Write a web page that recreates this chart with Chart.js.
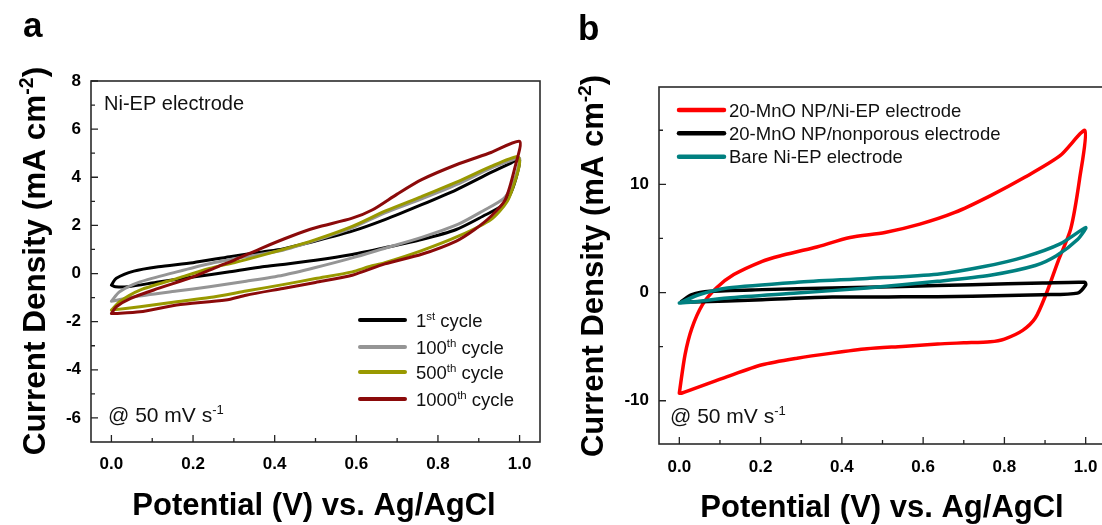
<!DOCTYPE html>
<html>
<head>
<meta charset="utf-8">
<script src="https://cdn.jsdelivr.net/npm/chart.js@4.4.1/dist/chart.umd.min.js"></script>
<style>
  html, body { margin: 0; padding: 0; background: #fff; overflow: hidden; width: 1102px; height: 525px; }
  canvas { position: absolute; top: 0; }
  #panelA { left: 0; }
  #panelB { left: 551px; }
</style>
</head>
<body>
<canvas id="panelA" width="551" height="525"></canvas>
<canvas id="panelB" width="560" height="525"></canvas>
<script>
// ---------- Panel a: Ni-EP electrode, cycling stability (potential V, current mA cm-2) ----------
const cycle1V    = [0, 0.012, 0.055, 0.115, 0.2, 0.29, 0.37, 0.42, 0.5, 0.59, 0.67, 0.76, 0.845, 0.93, 0.98, 1.0, 0.995, 0.98, 0.96, 0.91, 0.845, 0.76, 0.67, 0.59, 0.5, 0.42, 0.37, 0.29, 0.2, 0.115, 0.04, 0.01, 0];
const cycle1I    = [-0.48, -0.2, 0.1, 0.28, 0.45, 0.7, 0.9, 1.02, 1.35, 1.76, 2.24, 2.86, 3.48, 4.2, 4.6, 4.75, 4.2, 3.4, 2.85, 2.38, 1.83, 1.41, 1.07, 0.79, 0.55, 0.38, 0.28, 0.07, -0.14, -0.35, -0.55, -0.55, -0.48];

const cycle100V  = [0, 0.02, 0.07, 0.16, 0.24, 0.33, 0.42, 0.5, 0.59, 0.67, 0.76, 0.845, 0.93, 0.98, 1.0, 0.995, 0.98, 0.96, 0.91, 0.85, 0.76, 0.67, 0.59, 0.5, 0.42, 0.33, 0.24, 0.16, 0.055, 0.01, 0];
const cycle100I  = [-1.15, -0.76, -0.35, 0.07, 0.41, 0.7, 0.97, 1.38, 1.9, 2.52, 3.1, 3.69, 4.38, 4.7, 4.8, 4.3, 3.6, 3.1, 2.6, 2.05, 1.5, 1.05, 0.65, 0.25, -0.07, -0.32, -0.55, -0.73, -0.97, -1.12, -1.15];

const cycle500V  = [0, 0.02, 0.07, 0.16, 0.24, 0.3, 0.33, 0.42, 0.5, 0.59, 0.67, 0.76, 0.85, 0.93, 0.995, 1.0, 0.99, 0.97, 0.93, 0.85, 0.76, 0.67, 0.63, 0.59, 0.5, 0.42, 0.33, 0.24, 0.16, 0.07, 0.01, 0];
const cycle500I  = [-1.52, -1.17, -0.69, -0.21, 0.21, 0.45, 0.58, 1.0, 1.41, 1.96, 2.59, 3.2, 3.83, 4.45, 4.86, 4.6, 3.9, 3.0, 2.24, 1.55, 0.95, 0.45, 0.28, 0.07, -0.21, -0.46, -0.73, -1.0, -1.17, -1.38, -1.5, -1.52];

const cycle1000V = [0, 0.012, 0.046, 0.115, 0.2, 0.26, 0.3, 0.37, 0.44, 0.5, 0.59, 0.64, 0.7, 0.76, 0.845, 0.93, 1.0, 0.99, 0.965, 0.93, 0.89, 0.845, 0.76, 0.67, 0.59, 0.5, 0.42, 0.33, 0.28, 0.16, 0.07, 0.01, 0];
const cycle1000I = [-1.66, -1.38, -1.04, -0.62, -0.14, 0.28, 0.55, 1.07, 1.55, 1.9, 2.3, 2.65, 3.3, 3.9, 4.52, 5.03, 5.49, 4.5, 3.07, 2.38, 1.83, 1.35, 0.8, 0.4, -0.07, -0.37, -0.62, -0.9, -1.1, -1.31, -1.59, -1.66, -1.66];

// ---------- Panel b: electrode comparison ----------
const mnoNiEpV     = [0, 0.014, 0.031, 0.057, 0.091, 0.134, 0.204, 0.247, 0.333, 0.42, 0.506, 0.592, 0.678, 0.765, 0.85, 0.937, 0.998, 0.985, 0.963, 0.932, 0.902, 0.876, 0.845, 0.8, 0.765, 0.7, 0.636, 0.549, 0.462, 0.376, 0.29, 0.204, 0.118, 0.005, 0];
const mnoNiEpI     = [-9.3, -5.76, -3.29, -1.12, 0.42, 1.66, 2.89, 3.38, 4.16, 5.09, 5.55, 6.32, 7.4, 8.94, 10.65, 12.65, 14.97, 10.5, 5.86, 2.89, -0.2, -2.36, -3.5, -4.3, -4.55, -4.65, -4.75, -4.98, -5.2, -5.6, -6.07, -6.68, -7.77, -9.31, -9.3];

const mnoNonporousV = [0.005, 0.031, 0.075, 0.204, 0.376, 0.549, 0.721, 0.894, 0.998, 1.0, 0.98, 0.894, 0.721, 0.549, 0.376, 0.204, 0.031, 0.005];
const mnoNonporousI = [-0.82, -0.2, 0.11, 0.27, 0.42, 0.57, 0.73, 0.88, 0.95, 0.7, -0.05, -0.2, -0.35, -0.4, -0.42, -0.66, -0.87, -0.82];

const bareNiEpV    = [0, 0.048, 0.118, 0.29, 0.462, 0.635, 0.75, 0.85, 0.937, 1.0, 0.98, 0.928, 0.876, 0.765, 0.635, 0.462, 0.29, 0.118, 0.031, 0];
const bareNiEpI    = [-0.97, -0.2, 0.42, 0.95, 1.3, 1.7, 2.4, 3.3, 4.5, 6.0, 4.9, 3.4, 2.5, 1.6, 1.04, 0.42, -0.05, -0.51, -0.88, -0.97];

// ---------- Axis ticks ----------
const xTickValues  = [0, 0.2, 0.4, 0.6, 0.8, 1.0];
const xMinorValues = [0.1, 0.3, 0.5, 0.7, 0.9];
const yTicksA      = [-6, -4, -2, 0, 2, 4, 6, 8];
const yMinorA      = [-5, -3, -1, 1, 3, 5, 7];
const yTicksB      = [-10, 0, 10];
const yMinorB      = [-5, 5, 15];

const FONT = '"Liberation Sans", Arial, Helvetica, sans-serif';
Chart.defaults.font.family = FONT;

function toPoints(xs, ys) { return xs.map((x, i) => ({ x: x, y: ys[i] })); }

function loop(label, xs, ys, color, width, order) {
  return {
    label: label,
    data: toPoints(xs, ys),
    showLine: true,
    borderColor: color,
    backgroundColor: color,
    borderWidth: width,
    pointRadius: 0,
    tension: 0.25,
    borderJoinStyle: 'round',
    borderCapStyle: 'round',
    fill: false,
    order: order
  };
}

// rich text with superscript parts: parts = [[text, isSup], ...]
function richWidth(ctx, parts, size, weight) {
  let w = 0;
  parts.forEach(([t, sup]) => {
    ctx.font = `${weight} ${sup ? size * 0.62 : size}px ${FONT}`;
    w += ctx.measureText(t).width;
  });
  return w;
}
function drawRich(ctx, parts, x, y, size, weight, align) {
  const w = richWidth(ctx, parts, size, weight);
  let cx = align === 'center' ? x - w / 2 : x;
  ctx.textAlign = 'left';
  ctx.textBaseline = 'alphabetic';
  parts.forEach(([t, sup]) => {
    ctx.font = `${weight} ${sup ? size * 0.62 : size}px ${FONT}`;
    ctx.fillText(t, cx, sup ? y - size * 0.38 : y);
    cx += ctx.measureText(t).width;
  });
}

function decorPlugin(spec) {
  return {
    id: 'decor',
    afterDraw(chart) {
      const ctx = chart.ctx, a = chart.chartArea;
      const xs = chart.scales.x, ys = chart.scales.y;
      ctx.save();

      // frame
      ctx.strokeStyle = '#2b2b2b';
      ctx.lineWidth = 1.6;
      ctx.strokeRect(a.left, a.top, a.right - a.left, a.bottom - a.top);

      // inward tick marks
      ctx.lineWidth = 1.3;
      ctx.strokeStyle = '#222';
      ctx.beginPath();
      const xt = (v, len) => { const p = xs.getPixelForValue(v); ctx.moveTo(p, a.bottom); ctx.lineTo(p, a.bottom - len); };
      const yt = (v, len) => { const p = ys.getPixelForValue(v); ctx.moveTo(a.left, p); ctx.lineTo(a.left + len, p); };
      spec.xMajor.forEach(v => xt(v, 7));
      spec.xMinor.forEach(v => xt(v, 4));
      spec.yMajor.forEach(v => yt(v, 7));
      spec.yMinor.forEach(v => yt(v, 4));
      ctx.stroke();

      ctx.fillStyle = '#000';

      // legend
      spec.legend.items.forEach((it, i) => {
        const y = spec.legend.rows[i];
        ctx.strokeStyle = it.color;
        ctx.lineWidth = spec.legend.lineWidth;
        ctx.lineCap = 'round';
        ctx.beginPath();
        ctx.moveTo(spec.legend.x0, y);
        ctx.lineTo(spec.legend.x1, y);
        ctx.stroke();
        ctx.fillStyle = '#111';
        drawRich(ctx, it.parts, spec.legend.tx, y + spec.legend.size * 0.36, spec.legend.size, 'normal', 'left');
      });

      // free text notes
      ctx.fillStyle = '#111';
      spec.notes.forEach(n => drawRich(ctx, n.parts, n.x, n.y, n.size, n.weight || 'normal', 'left'));

      // panel letter
      ctx.fillStyle = '#000';
      drawRich(ctx, [[spec.letter.text]], spec.letter.x, spec.letter.y, spec.letter.size, 'bold', 'left');

      // axis titles
      drawRich(ctx, spec.xTitle.parts, spec.xTitle.x, spec.xTitle.y, spec.xTitle.size, 'bold', 'center');
      ctx.save();
      ctx.translate(spec.yTitle.x, spec.yTitle.y);
      ctx.rotate(-Math.PI / 2);
      drawRich(ctx, spec.yTitle.parts, 0, 0, spec.yTitle.size, 'bold', 'center');
      ctx.restore();

      ctx.restore();
    }
  };
}

function makeChart(canvasId, datasets, opt, spec) {
  return new Chart(document.getElementById(canvasId), {
    type: 'scatter',
    data: { datasets: datasets },
    options: {
      responsive: false,
      maintainAspectRatio: false,
      animation: false,
      events: [],
      layout: { padding: opt.padding },
      plugins: { legend: { display: false }, tooltip: { enabled: false } },
      scales: {
        x: {
          type: 'linear',
          min: -0.05, max: 1.05,
          afterFit(s) { s.height = opt.xAxisHeight; },
          afterBuildTicks(s) { s.ticks = xTickValues.map(v => ({ value: v })); },
          grid: { display: false, drawTicks: false },
          border: { display: false },
          ticks: {
            padding: opt.xPad,
            color: '#000',
            font: { size: 17, weight: 'bold', family: FONT },
            callback: v => Number(v).toFixed(1),
            maxRotation: 0
          }
        },
        y: {
          type: 'linear',
          min: opt.yMin, max: opt.yMax,
          afterFit(s) { s.width = opt.yAxisWidth; },
          afterBuildTicks(s) { s.ticks = opt.yTicks.map(v => ({ value: v })); },
          grid: { display: false, drawTicks: false },
          border: { display: false },
          ticks: {
            padding: 10,
            color: '#000',
            font: { size: 17, weight: 'bold', family: FONT },
            callback: v => String(v)
          }
        }
      }
    },
    plugins: [decorPlugin(spec)]
  });
}

const yTitleParts = [['Current Density (mA cm'], ['-2', true], [')']];
const xTitleParts = [['Potential (V) vs. Ag/AgCl']];
const rateParts = [['@ 50 mV s'], ['-1', true]];

// ---------- Panel a ----------
makeChart('panelA', [
  loop('1st cycle', cycle1V, cycle1I, '#000000', 3, 4),
  loop('100th cycle', cycle100V, cycle100I, '#959595', 3, 3),
  loop('500th cycle', cycle500V, cycle500I, '#999900', 3, 2),
  loop('1000th cycle', cycle1000V, cycle1000I, '#8b0a0a', 3, 1)
], {
  padding: { left: 0, top: 81, right: 11, bottom: 0 },
  xAxisHeight: 83, yAxisWidth: 91, xPad: 12,
  yMin: -7, yMax: 8, yTicks: yTicksA
}, {
  xMajor: xTickValues, xMinor: xMinorValues, yMajor: yTicksA, yMinor: yMinorA,
  legend: {
    x0: 360, x1: 405, tx: 416, size: 18.5, lineWidth: 4,
    rows: [320, 347, 372, 399],
    items: [
      { color: '#000000', parts: [['1'], ['st', true], [' cycle']] },
      { color: '#959595', parts: [['100'], ['th', true], [' cycle']] },
      { color: '#999900', parts: [['500'], ['th', true], [' cycle']] },
      { color: '#8b0a0a', parts: [['1000'], ['th', true], [' cycle']] }
    ]
  },
  notes: [
    { parts: [['Ni-EP electrode']], x: 104, y: 110, size: 20 },
    { parts: rateParts, x: 108, y: 422, size: 21 }
  ],
  letter: { text: 'a', x: 23, y: 37, size: 35 },
  xTitle: { parts: xTitleParts, x: 314, y: 515, size: 31 },
  yTitle: { parts: yTitleParts, x: 45, y: 261, size: 31.5 }
});

// ---------- Panel b ----------
makeChart('panelB', [
  loop('20-MnO NP/Ni-EP electrode', mnoNiEpV, mnoNiEpI, '#ff0000', 3.5, 3),
  loop('20-MnO NP/nonporous electrode', mnoNonporousV, mnoNonporousI, '#000000', 3.5, 2),
  loop('Bare Ni-EP electrode', bareNiEpV, bareNiEpI, '#008080', 3.5, 1)
], {
  padding: { left: 0, top: 87, right: 5, bottom: 0 },
  xAxisHeight: 81, yAxisWidth: 108, xPad: 13,
  yMin: -14, yMax: 19, yTicks: yTicksB
}, {
  xMajor: xTickValues, xMinor: xMinorValues, yMajor: yTicksB, yMinor: yMinorB,
  legend: {
    x0: 128, x1: 173, tx: 178, size: 18.5, lineWidth: 4.5,
    rows: [110, 133.3, 156.7],
    items: [
      { color: '#ff0000', parts: [['20-MnO NP/Ni-EP electrode']] },
      { color: '#000000', parts: [['20-MnO NP/nonporous electrode']] },
      { color: '#008080', parts: [['Bare Ni-EP electrode']] }
    ]
  },
  notes: [
    { parts: rateParts, x: 119, y: 423, size: 21 }
  ],
  letter: { text: 'b', x: 27, y: 40, size: 35 },
  xTitle: { parts: xTitleParts, x: 331, y: 517, size: 31 },
  yTitle: { parts: yTitleParts, x: 52, y: 266, size: 31 }
});
</script>
</body>
</html>
